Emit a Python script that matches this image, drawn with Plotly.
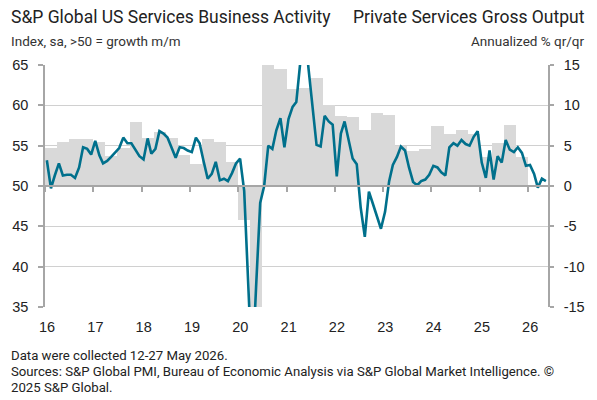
import pandas as pd
import plotly.graph_objects as go

# S&P Global US Services PMI, business activity index (monthly, Jan 2016 - May 2026)
pmi = [
    53.2, 49.7, 51.3, 52.8, 51.3, 51.4, 51.4, 51.0, 52.3, 54.8, 54.6, 53.9,
    55.6, 53.8, 52.8, 53.1, 53.6, 54.2, 54.7, 56.0, 55.3, 55.3, 54.5, 53.7,
    53.3, 55.9, 54.0, 54.6, 56.8, 56.5, 56.0, 54.8, 53.5, 54.8, 54.7, 54.4,
    54.2, 56.0, 55.3, 53.0, 50.9, 51.5, 53.0, 50.7, 50.9, 50.6, 51.6, 52.8,
    53.4, 49.4, 39.8, 26.7, 37.5, 47.9, 50.0, 55.0, 54.6, 56.9, 58.4, 54.8,
    58.3, 59.8, 60.4, 64.7, 70.4, 64.6, 59.9, 55.1, 54.9, 58.7, 58.0, 57.6,
    51.2, 56.5, 58.0, 55.6, 53.4, 52.7, 47.3, 43.7, 49.3, 47.8, 46.2, 44.7,
    46.8, 50.6, 52.6, 53.6, 54.9, 54.4, 52.3, 50.5, 50.1, 50.6, 50.8, 51.4,
    52.5, 52.3, 51.7, 51.3, 54.8, 55.3, 55.0, 55.7, 55.2, 55.0, 56.1, 56.8,
    52.9, 51.0, 54.4, 50.8, 53.7, 52.9, 55.7, 54.5, 54.2, 54.8, 54.1, 52.5,
    52.6, 51.5, 49.8, 50.9, 50.6,
]

# private services gross output, annualized % q/q (Q1 2016 - Q4 2025)
gross_output = [
    4.7, 5.5, 5.8, 5.8,
    5.4, 3.7, 4.7, 7.9,
    6.0, 6.7, 5.9, 3.9,
    2.7, 5.8, 5.5, 3.0,
    -4.2, -16.0, 16.0, 14.5,
    12.0, 12.2, 13.4, 10.1,
    8.7, 8.5, 6.9, 9.1,
    8.8, 5.0, 4.3, 4.6,
    7.4, 6.5, 6.9, 6.4,
    3.6, 5.3, 7.6, 3.6,
]

year_labels = ["16", "17", "18", "19", "20", "21", "22", "23", "24", "25", "26"]
left_ticks = [35, 40, 45, 50, 55, 60, 65]
right_ticks = [-15, -10, -5, 0, 5, 10, 15]

months = pd.date_range("2016-01-01", periods=len(pmi), freq="MS") + pd.Timedelta(days=14)
q_start = pd.date_range("2016-01-01", periods=len(gross_output), freq="QS")
q_end = pd.date_range("2016-04-01", periods=len(gross_output), freq="QS")
q_mid = q_start + (q_end - q_start) / 2
q_width = [d.total_seconds() * 1000 for d in (q_end - q_start)]
year_ticks = pd.date_range("2016-01-01", periods=len(year_labels), freq="YS")

x_range = ["2016-01-01", "2026-05-31"]
axis_col = "#a6a6a6"
grid_col = "#d0d0d0"
text_col = "#222222"
tick_font = dict(family="Liberation Sans, Arial", size=14.5, color=text_col)

fig = go.Figure()
fig.add_trace(go.Bar(x=q_mid, y=gross_output, width=q_width,
                     marker=dict(color="#d9d9d9", line=dict(width=0)),
                     xaxis="x", yaxis="y", hoverinfo="skip"))
fig.add_trace(go.Scatter(x=months, y=pmi, mode="lines",
                         line=dict(color="#00708c", width=2.6),
                         xaxis="x2", yaxis="y2", hoverinfo="skip"))

fig.update_layout(
    width=597, height=400,
    margin=dict(l=44, r=45, t=65, b=93),
    paper_bgcolor="white", plot_bgcolor="white",
    showlegend=False, bargap=0, hovermode=False,
    xaxis=dict(range=x_range, tickvals=year_ticks, ticktext=year_labels,
               showgrid=False, zeroline=False, showline=False, ticks="",
               ticklabelstandoff=9, ticklabelshift=2, tickfont=tick_font),
    xaxis2=dict(range=x_range, tickvals=year_ticks, overlaying="x", anchor="free",
                position=0.5, showticklabels=False, showgrid=False, zeroline=False,
                showline=True, linecolor=axis_col, linewidth=1.5,
                ticks="outside", ticklen=5, tickcolor=axis_col, tickwidth=1.5),
    yaxis=dict(side="right", range=[-15, 15], tickvals=right_ticks,
               ticktext=[str(v) for v in right_ticks],
               showgrid=True, gridcolor=grid_col, gridwidth=1, zeroline=False,
               showline=True, linecolor=axis_col, linewidth=1.5,
               ticks="outside", ticklen=4, tickcolor=axis_col, tickwidth=1.5,
               ticklabelstandoff=7, tickfont=tick_font),
    yaxis2=dict(side="left", overlaying="y", range=[35, 65], tickvals=left_ticks,
                showgrid=False, zeroline=False,
                showline=True, linecolor=axis_col, linewidth=1.5,
                ticks="outside", ticklen=5, tickcolor=axis_col, tickwidth=1.5,
                ticklabelstandoff=7, tickfont=tick_font),
)

title_font = dict(family="Roboto", size=17.5, color=text_col)
sub_font = dict(family="Roboto", size=13.5, color="#333333")
note_font = dict(family="Roboto", size=13.2, color=text_col)


def py(y):
    # pixel row -> paper y
    return (307 - y) / 242


fig.add_annotation(text="S&P Global US Services Business Activity", x=(8 - 44) / 508, y=py(17),
                   xref="paper", yref="paper", xanchor="left", yanchor="middle",
                   showarrow=False, font=title_font)
fig.add_annotation(text="Private Services Gross Output", x=(591 - 44) / 508, y=py(17),
                   xref="paper", yref="paper", xanchor="right", yanchor="middle",
                   showarrow=False, font=title_font)
fig.add_annotation(text="Index, sa, >50 = growth m/m", x=(8 - 44) / 508, y=py(41),
                   xref="paper", yref="paper", xanchor="left", yanchor="middle",
                   showarrow=False, font=sub_font)
fig.add_annotation(text="Annualized % qr/qr", x=(591 - 44) / 508, y=py(41),
                   xref="paper", yref="paper", xanchor="right", yanchor="middle",
                   showarrow=False, font=sub_font)

notes = [
    "Data were collected 12-27 May 2026.",
    "Sources: S&P Global PMI, Bureau of Economic Analysis via S&P Global Market Intelligence. ©",
    "2025 S&P Global.",
]
for i, line in enumerate(notes):
    fig.add_annotation(text=line, x=(8 - 44) / 508, y=py(355 + 16 * i),
                       xref="paper", yref="paper", xanchor="left", yanchor="middle",
                       showarrow=False, font=note_font)

# the page's default body margin would push the 597x400 figure off by 8px
fig.write_html("out.html", config={"displayModeBar": False},
               post_script="document.body.style.margin='0';")
